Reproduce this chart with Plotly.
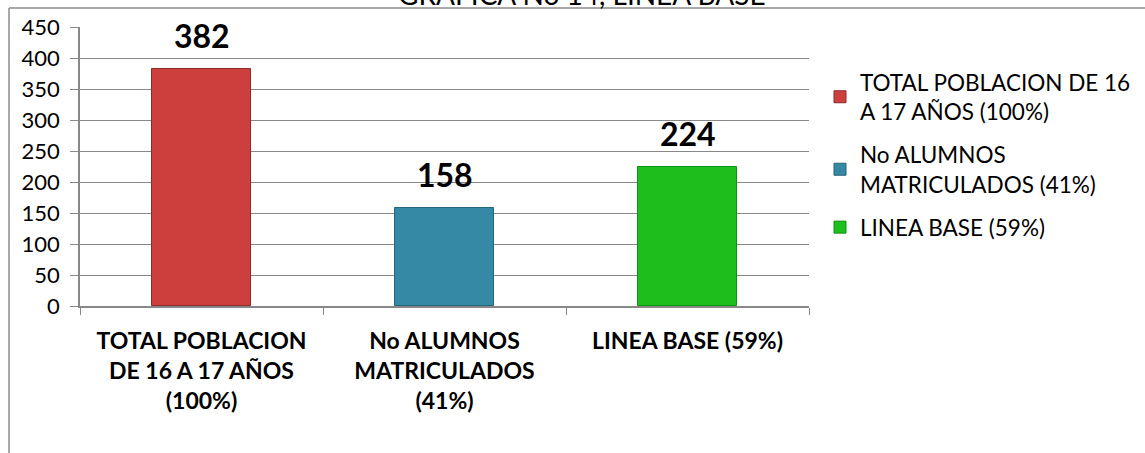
import plotly.graph_objects as go

# chart data
categories = [
    "TOTAL POBLACION<br>DE 16 A 17 AÑOS<br>(100%)",
    "No ALUMNOS<br>MATRICULADOS<br>(41%)",
    "LINEA BASE (59%)",
]
legend_names = [
    "TOTAL POBLACION DE 16<br>A 17 AÑOS (100%)",
    "No ALUMNOS<br>MATRICULADOS (41%)",
    "LINEA BASE (59%)",
]
values = [382, 158, 224]
bar_colors = ["#CC3F3D", "#3689A4", "#1CBF1C"]
edge_colors = ["#8E2A28", "#24657A", "#129012"]
y_ticks = [0, 50, 100, 150, 200, 250, 300, 350, 400, 450]
title_text = "GRAFICA No 14, LINEA BASE"

W, H = 1145, 453
M_L, M_R, M_T, M_B = 80, 0, 27, 147
PLOT_RIGHT = 809  # right edge of the bar area in pixels
FONT = "Lato, 'Liberation Sans', Arial, sans-serif"
GRID = "#888888"

# pixel -> paper conversion
pw = W - M_L - M_R
ph = H - M_T - M_B


def px_x(p):
    return (p - M_L) / pw


def px_y(p):
    return (H - M_B - p) / ph


fig = go.Figure()
for i, (cat, name, val) in enumerate(zip(categories, legend_names, values)):
    fig.add_trace(go.Bar(
        x=[cat], y=[val], name=name,
        width=0.41,
        marker=dict(color=bar_colors[i], line=dict(color=edge_colors[i], width=1)),
        legendgroup=f"g{i}",
        hoverinfo="x+y",
    ))
    # value label above each bar
    fig.add_annotation(
        x=cat, y=val, text=f"<b>{val}</b>",
        showarrow=False, yanchor="bottom", yshift=12,
        font=dict(size=32, color="black", family=FONT),
    )

# outer frame of the original chart (top + left edge visible)
fig.add_shape(type="line", xref="paper", yref="paper",
              x0=px_x(9), x1=px_x(1150), y0=px_y(8), y1=px_y(8),
              line=dict(color="#8C8C8C", width=1.5))
fig.add_shape(type="line", xref="paper", yref="paper",
              x0=px_x(9), x1=px_x(9), y0=px_y(8), y1=px_y(460),
              line=dict(color="#8C8C8C", width=1.5))

# title, mostly cut off at the top of the picture
fig.add_annotation(
    xref="paper", yref="paper", x=px_x(582), y=px_y(-6),
    text=title_text, showarrow=False, xanchor="center", yanchor="middle",
    font=dict(size=28, color="black", family=FONT),
)

fig.update_layout(
    width=W, height=H,
    margin=dict(l=M_L, r=M_R, t=M_T, b=M_B),
    paper_bgcolor="white", plot_bgcolor="white",
    barmode="overlay",
    bargap=0,
    font=dict(family=FONT, color="black"),
    showlegend=True,
    legend=dict(
        x=px_x(820), y=px_y(61), xanchor="left", yanchor="top",
        font=dict(size=22.5, family=FONT, color="black"),
        tracegroupgap=11,
        itemwidth=30,
        bgcolor="rgba(0,0,0,0)",
    ),
    xaxis=dict(
        domain=[0, px_x(PLOT_RIGHT)],
        type="category",
        categoryorder="array", categoryarray=categories,
        range=[-0.5, 2.5],
        showline=True, linecolor=GRID, linewidth=1.5,
        ticks="outside", tickson="boundaries", ticklen=7, tickcolor=GRID,
        tickfont=dict(size=23, family=FONT, color="black", weight="bold"),
        ticklabelstandoff=14,
        showgrid=False,
        fixedrange=True,
    ),
    yaxis=dict(
        range=[0, 450],
        tickvals=y_ticks,
        showline=True, linecolor=GRID, linewidth=1.5,
        ticks="outside", ticklen=8, tickcolor=GRID,
        showgrid=True, gridcolor=GRID, gridwidth=1.3,
        zeroline=False,
        tickfont=dict(size=22, family=FONT, color="black"),
        ticklabelstandoff=6,
        fixedrange=True,
    ),
)

# drop the default page margin so the figure sits at the window's corner
fig.write_html(
    "out.html",
    config={"displayModeBar": False},
    post_script="document.body.style.margin='0';",
)
